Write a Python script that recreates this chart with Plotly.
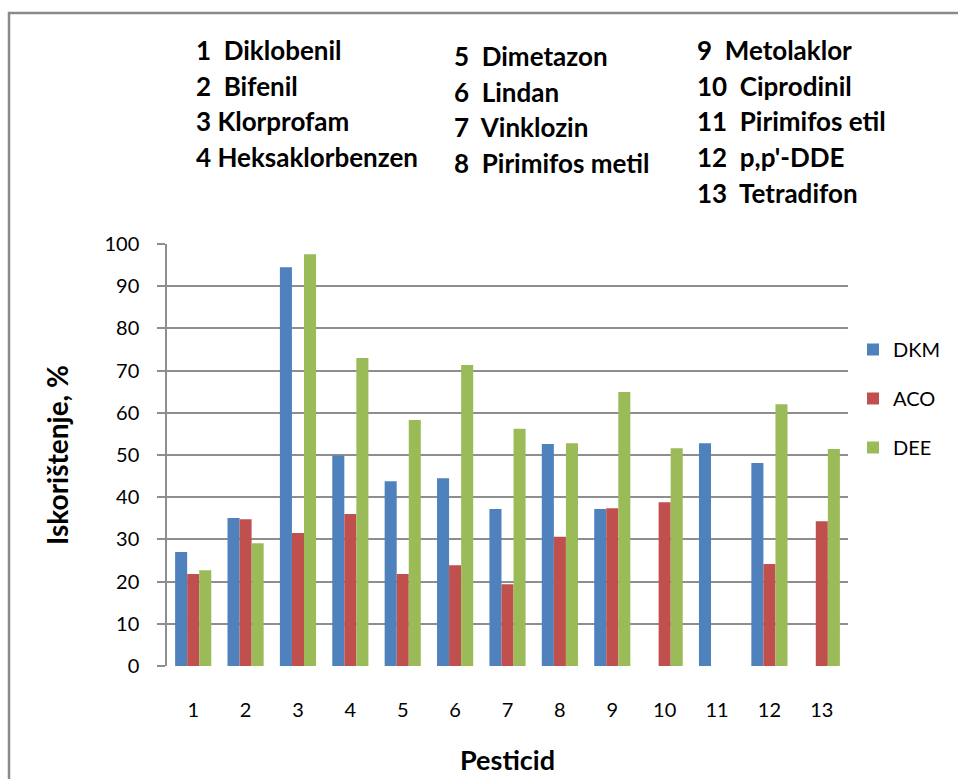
import plotly.graph_objects as go

categories = ["1", "2", "3", "4", "5", "6", "7", "8", "9", "10", "11", "12", "13"]
dkm = [27.0, 35.1, 94.5, 49.9, 43.8, 44.5, 37.2, 52.6, 37.2, None, 52.8, 48.1, None]
aco = [21.8, 34.8, 31.5, 36.0, 21.8, 23.9, 19.4, 30.6, 37.4, 38.8, None, 24.2, 34.3]
dee = [22.7, 29.1, 97.6, 73.0, 58.3, 71.3, 56.2, 52.8, 64.9, 51.6, None, 62.0, 51.4]
series_names = ["DKM", "ACO", "DEE"]
series_colors = ["#4F81BD", "#C0504D", "#9BBB59"]

pesticides_col1 = ["1  Diklobenil", "2  Bifenil", "3 Klorprofam", "4 Heksaklorbenzen"]
pesticides_col2 = ["5  Dimetazon", "6  Lindan", "7  Vinklozin", "8  Pirimifos metil"]
pesticides_col3 = ["9  Metolaklor", "10  Ciprodinil", "11  Pirimifos etil", "12  p,p'-DDE", "13  Tetradifon"]

W, H = 958, 779
L, R, T, B = 167, 110, 244, 113
pw, ph = W - L - R, H - T - B

def px_x(x):
    return (x - L) / pw

def px_y(y):
    return (H - B - y) / ph

FONT = "Lato, 'Open Sans', sans-serif"

fig = go.Figure()
for name, vals, col in zip(series_names, [dkm, aco, dee], series_colors):
    fig.add_trace(go.Bar(x=categories, y=vals, name=name, marker_color=col,
                         marker_line_width=0, legendgroup=name))

annotations = []
for col_items, x0, y0 in [(pesticides_col1, 194, 61), (pesticides_col2, 452, 67), (pesticides_col3, 695, 61)]:
    for i, txt in enumerate(col_items):
        annotations.append(dict(
            text="<b>%s</b>" % txt, xref="paper", yref="paper",
            x=px_x(x0), y=px_y(y0 + i * 35.7), xanchor="left", yanchor="bottom",
            showarrow=False, font=dict(family=FONT, size=26, color="black"),
            yshift=-7))

fig.update_layout(
    width=W, height=H,
    margin=dict(l=L, r=R, t=T, b=B, autoexpand=False),
    paper_bgcolor="white", plot_bgcolor="white",
    barmode="group", bargap=0.31, bargroupgap=0,
    font=dict(family=FONT, size=20, color="black"),
    showlegend=True,
    legend=dict(x=px_x(853), y=px_y(330), xanchor="left", yanchor="top",
                font=dict(size=20), tracegroupgap=20, traceorder="grouped",
                itemwidth=30),
    annotations=annotations,
    shapes=[dict(type="rect", xref="paper", yref="paper",
                 x0=px_x(9), x1=px_x(990), y0=px_y(810), y1=px_y(13),
                 line=dict(color="#8a8a8a", width=2.5), fillcolor="rgba(0,0,0,0)", layer="below")],
)

fig.update_xaxes(
    type="category", showgrid=False, showline=False, ticks="",
    ticklabelstandoff=30, tickfont=dict(size=20),
    title=dict(text="<b>Pesticid</b>", font=dict(size=27), standoff=31),
)
fig.update_yaxes(
    range=[0, 100], dtick=10, showgrid=True, gridcolor="#8e8e8e", gridwidth=1.5,
    showline=True, linecolor="#8e8e8e", linewidth=1.5,
    ticks="outside", ticklen=8, tickcolor="#8e8e8e", tickwidth=1.5,
    ticklabelstandoff=14, tickfont=dict(size=20),
    zeroline=False,
    title=dict(text="<b>Iskorištenje, %</b>", font=dict(size=28), standoff=28),
)

fig.write_html("out.html", config={"displayModeBar": False},
               post_script="document.body.style.margin='0';document.body.style.overflow='hidden';")
